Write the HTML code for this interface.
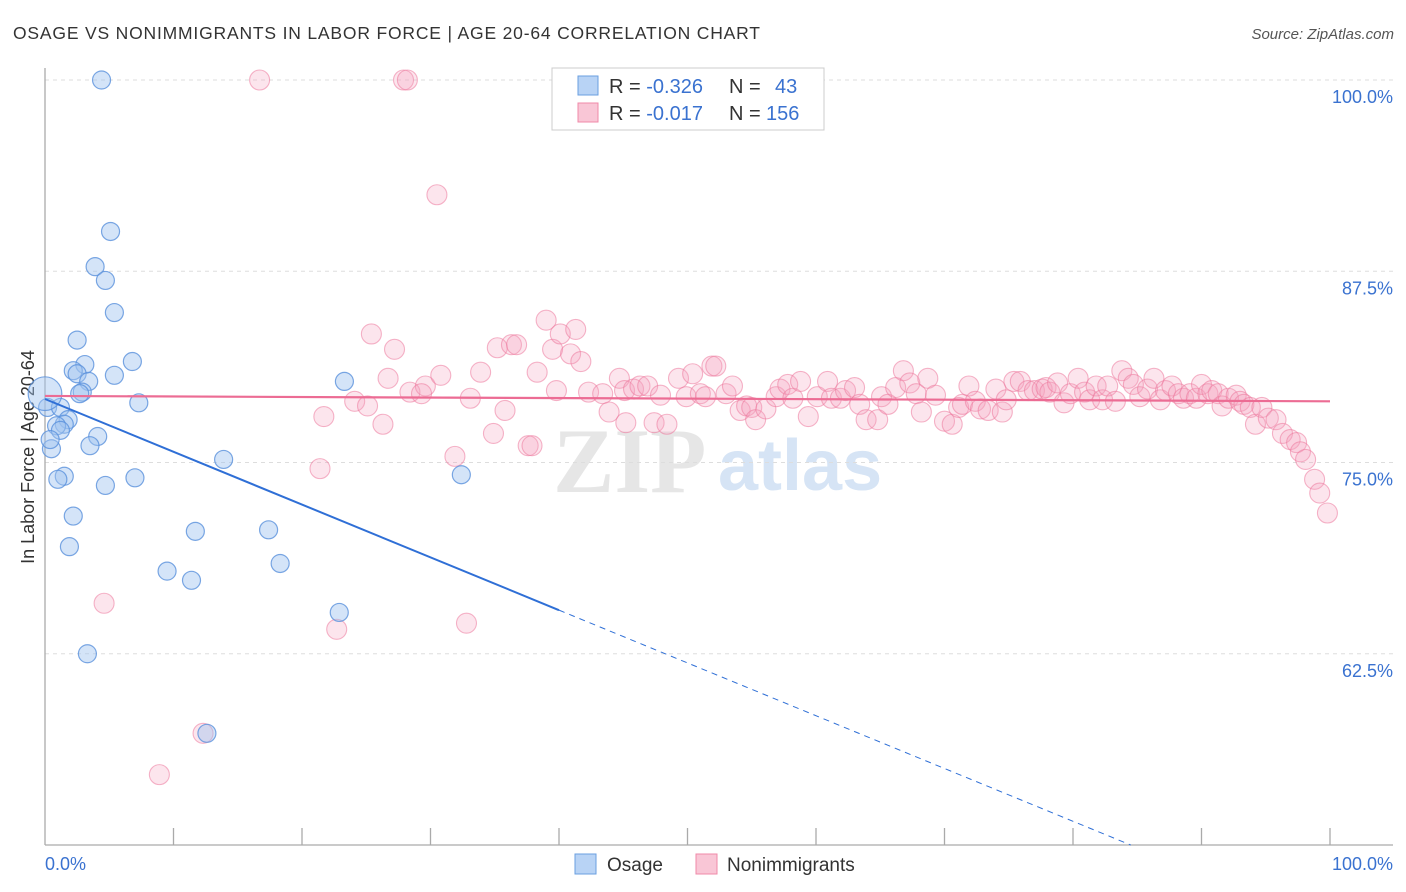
<!DOCTYPE html>
<html><head><meta charset="utf-8"><style>
body{margin:0;background:#fff;width:1406px;height:892px;overflow:hidden;font-family:"Liberation Sans",sans-serif}
svg{position:absolute;left:0;top:0}
</style></head><body>
<svg id="chart" width="1406" height="892">
<text x="13" y="39" font-size="17.5" fill="#333" textLength="747" lengthAdjust="spacing">OSAGE VS NONIMMIGRANTS IN LABOR FORCE | AGE 20-64 CORRELATION CHART</text>
<text x="1394" y="39" font-size="15" fill="#555" font-style="italic" text-anchor="end">Source: ZipAtlas.com</text>
<g>
<text x="553" y="492" font-size="92" font-family="Liberation Serif" fill="#e6e6e6" font-weight="bold">ZIP</text>
<text x="718" y="490" font-size="72" fill="#d6e4f5" font-weight="bold">atlas</text>
</g>
<g id="grid"></g>
<line x1="45" y1="68" x2="45" y2="845" stroke="#aaa" stroke-width="1.3"/>
<line x1="45" y1="845" x2="1393" y2="845" stroke="#aaa" stroke-width="1.3"/>
<g id="xticks"></g>
<text x="45" y="870" font-size="18" fill="#3a72d0">0.0%</text>
<text x="1393" y="870" font-size="18" fill="#3a72d0" text-anchor="end">100.0%</text>
<text transform="translate(34,457) rotate(-90)" font-size="18" fill="#333" text-anchor="middle">In Labor Force | Age 20-64</text>
<g id="pink"></g><g id="blue"></g><g id="lines"></g>
<g>
<rect x="552" y="68" width="272" height="62" fill="#fff" stroke="#ccc"/>
<rect x="578" y="76" width="20" height="19" fill="#b8d3f5" stroke="#6a9fe0"/>
<rect x="578" y="103" width="20" height="19" fill="#f9c6d6" stroke="#f08aa8"/>
<text x="609" y="93" font-size="20" fill="#333">R = <tspan fill="#3a72d0">-0.326</tspan><tspan x="729">N = </tspan><tspan x="775" fill="#3a72d0">43</tspan></text>
<text x="609" y="120" font-size="20" fill="#333">R = <tspan fill="#3a72d0">-0.017</tspan><tspan x="729">N = </tspan><tspan x="766" fill="#3a72d0">156</tspan></text>
</g>
<g>
<rect x="575" y="854" width="21" height="20" fill="#b8d3f5" stroke="#6a9fe0"/>
<text x="607" y="871" font-size="19" fill="#333">Osage</text>
<rect x="696" y="854" width="21" height="20" fill="#f9c6d6" stroke="#f08aa8"/>
<text x="727" y="871" font-size="19" fill="#333">Nonimmigrants</text>
</g>
</svg>
<script>
const yTicks=[100,87.5,75,62.5];
const yTickLabels=["100.0%","87.5%","75.0%","62.5%"];
const xTicks=[10,20,30,40,50,60,70,80,90,100];
const osageX=[4.4,5.1,3.9,4.7,5.4,2.5,3.1,2.2,2.5,3.4,6.8,5.4,23.3,2.9,2.7,7.3,0.2,1.2,1.8,1.5,0.9,1.2,4.1,3.5,0.5,13.9,1.5,1.0,7.0,4.7,32.4,2.2,11.7,17.4,1.9,9.5,11.4,18.3,22.9,3.3,12.6,0,0.4];
const osageY=[100,90.1,87.8,86.9,84.8,83.0,81.4,81.0,80.8,80.3,81.6,80.7,80.3,79.6,79.5,78.9,78.6,78.6,77.8,77.5,77.4,77.1,76.7,76.1,75.9,75.2,74.1,73.9,74.0,73.5,74.2,71.5,70.5,70.6,69.5,67.9,67.3,68.4,65.2,62.5,57.3,79.5,76.5];
const osageWeight=[1,1,1,1,1,1,1,1,1,1,1,1,1,1,1,1,1,1,1,1,1,1,1,1,1,1,1,1,1,1,1,1,1,1,1,1,1,1,1,1,1,3.5,1];
const nonX=[16.7,27.9,28.2,30.5,4.6,8.9,12.3,22.7,32.8,21.4,21.7,25.4,27.2,26.7,24.1,25.1,26.3,28.4,29.6,30.8,29.3,31.9,33.1,33.9,34.9,35.2,35.8,36.3,36.7,37.6,37.9,38.3,39.0,39.5,40.1,41.3,40.9,41.7,39.8,42.3,43.4,43.9,44.7,45.1,45.8,46.3,46.9,45.2,47.4,48.4,47.9,49.3,49.9,50.4,51.0,51.9,52.2,51.4,53.0,53.5,54.1,54.6,55.0,55.3,56.1,56.9,57.2,57.8,58.2,58.8,59.4,60.1,60.9,61.2,61.9,62.3,63.0,63.4,63.9,64.8,65.1,65.6,66.2,66.8,67.3,67.8,68.2,68.7,69.3,70.0,70.6,71.1,71.4,71.9,72.4,72.8,73.4,74.0,74.5,74.8,75.4,75.9,76.5,77.0,77.6,77.9,78.2,78.8,79.3,79.8,80.4,80.9,81.3,81.8,82.3,82.7,83.3,83.8,84.3,84.7,85.2,85.8,86.3,86.8,87.2,87.7,88.2,88.6,89.1,89.6,90.0,90.5,90.8,91.3,91.6,92.1,92.7,93.0,93.3,93.8,94.2,94.7,95.2,95.8,96.3,96.9,97.4,97.7,98.1,98.8,99.2,99.8];
const nonY=[100,100,100,92.5,65.8,54.6,57.3,64.1,64.5,74.6,78.0,83.4,82.4,80.5,79.0,78.7,77.5,79.6,80.0,80.7,79.5,75.4,79.2,80.9,76.9,82.5,78.4,82.7,82.7,76.1,76.1,80.9,84.3,82.4,83.4,83.7,82.1,81.6,79.7,79.6,79.5,78.3,80.5,79.7,79.8,80.0,80.0,77.6,77.6,77.5,79.4,80.5,79.3,80.8,79.5,81.3,81.3,79.3,79.5,80.0,78.4,78.7,78.6,77.8,78.5,79.3,79.8,80.1,79.2,80.3,78.0,79.3,80.3,79.2,79.2,79.7,79.9,78.8,77.8,77.8,79.3,78.8,79.9,81.0,80.2,79.5,78.3,80.5,79.4,77.7,77.5,78.6,78.8,80.0,79.0,78.5,78.4,79.8,78.3,79.1,80.3,80.3,79.7,79.7,79.8,79.9,79.6,80.2,78.9,79.5,80.5,79.6,79.1,80.0,79.1,80.0,79.0,81.0,80.5,80.1,79.3,79.8,80.5,79.1,79.7,80.0,79.5,79.2,79.5,79.2,80.1,79.5,79.7,79.5,78.7,79.2,79.4,79.0,78.8,78.6,77.5,78.6,77.9,77.8,76.9,76.5,76.3,75.7,75.2,73.9,73.0,71.7];
const osageFit=[79.15,-0.345];
const nonFit=[79.35,-0.0035];

const NS='http://www.w3.org/2000/svg';
const sx=v=>45+v*12.85;
const sy=v=>80+(100-v)*15.3;
function mk(tag,attrs,parent){const e=document.createElementNS(NS,tag);for(const k in attrs)e.setAttribute(k,attrs[k]);parent.appendChild(e);return e;}
const grid=document.getElementById('grid');
yTicks.forEach((t,i)=>{
 const l=mk('line',{x1:45,x2:1393,y1:sy(t),y2:sy(t),stroke:'#ddd','stroke-dasharray':'4,4'},grid);
 
 
 const tx=mk('text',{x:1393,y:sy(t)+23,'font-size':18,fill:'#3a72d0','text-anchor':'end'},grid);
 tx.textContent=yTickLabels[i];
 
 
});
const xt=document.getElementById('xticks');
xTicks.forEach(t=>{
 const l=mk('line',{x1:sx(t),x2:sx(t),y1:828,y2:845,stroke:'#aaa','stroke-width':1.3},xt);
 
 
});
const pg=document.getElementById('pink');
nonX.forEach((x,i)=>{
 const c=mk('circle',{cx:sx(x),cy:sy(nonY[i]),r:10,fill:'rgba(244,160,190,0.28)',stroke:'rgba(236,120,156,0.55)','stroke-width':1.1},pg);
 
 
});
const bg=document.getElementById('blue');
osageX.forEach((x,i)=>{
 const c=mk('circle',{cx:sx(x),cy:sy(osageY[i]),r:9*Math.sqrt(osageWeight[i]),fill:'rgba(160,196,240,0.45)',stroke:'rgba(90,145,220,0.8)','stroke-width':1.2},bg);
 
 
});
const lg=document.getElementById('lines');
const f=(fit,x)=>fit[0]+fit[1]*x;
let l1=mk('line',{x1:sx(0),y1:sy(f(osageFit,0)),x2:sx(40),y2:sy(f(osageFit,40)),stroke:'#2f6fd6','stroke-width':2},lg);


const xEnd=(50-osageFit[0])/osageFit[1];
let l2=mk('line',{x1:sx(40),y1:sy(f(osageFit,40)),x2:sx(xEnd),y2:sy(50),stroke:'#2f6fd6','stroke-width':1,'stroke-dasharray':'6,5'},lg);


let l3=mk('line',{x1:sx(0),y1:sy(f(nonFit,0)),x2:sx(100),y2:sy(f(nonFit,100)),stroke:'#ec6c94','stroke-width':2.2},lg);


</script>
</body></html>
